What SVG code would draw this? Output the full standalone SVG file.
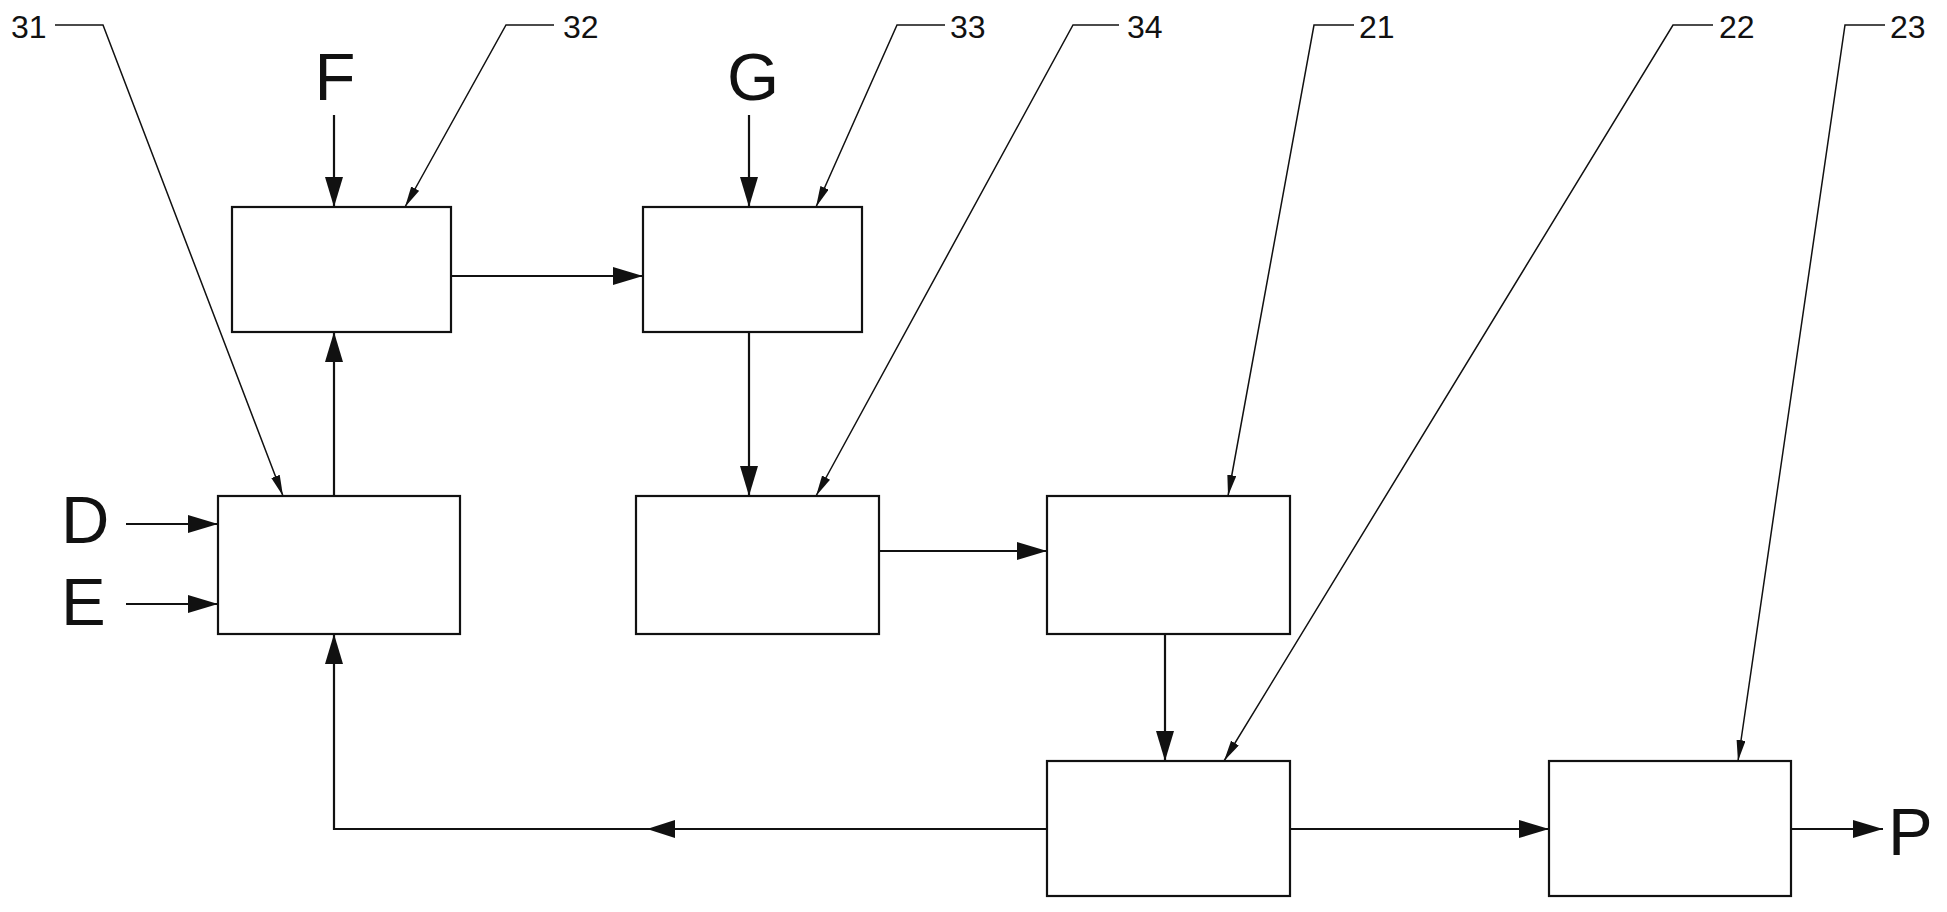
<svg xmlns="http://www.w3.org/2000/svg" width="1947" height="912" viewBox="0 0 1947 912">
<style>
.box{fill:#fff;stroke:#111;stroke-width:2.2}
.con{fill:none;stroke:#111;stroke-width:2.2}
.lead{fill:none;stroke:#111;stroke-width:1.5}
.num{font-family:"Liberation Sans",Arial,sans-serif;font-size:32px;fill:#111}
.big{font-family:"Liberation Sans",Arial,sans-serif;font-size:67px;fill:#111}
</style>
<defs>
<marker id="arr" markerUnits="userSpaceOnUse" markerWidth="32" markerHeight="20" refX="30" refY="9" orient="auto" viewBox="0 0 32 20">
<path d="M0,0 L30,9 L0,18 Z" fill="#111"/>
</marker>
<marker id="sarr" markerUnits="userSpaceOnUse" markerWidth="24" markerHeight="10" refX="21" refY="4.5" orient="auto" viewBox="0 0 24 10">
<path d="M0,0 L21,4.5 L0,9 Z" fill="#111"/>
</marker>
</defs>
<rect width="1947" height="912" fill="#fff"/>

<g id="node-31"><rect class="box" x="218" y="496" width="242" height="138"/></g>
<g id="node-32"><rect class="box" x="232" y="207" width="219" height="125"/></g>
<g id="node-33"><rect class="box" x="643" y="207" width="219" height="125"/></g>
<g id="node-34"><rect class="box" x="636" y="496" width="243" height="138"/></g>
<g id="node-21"><rect class="box" x="1047" y="496" width="243" height="138"/></g>
<g id="node-22"><rect class="box" x="1047" y="761" width="243" height="135"/></g>
<g id="node-23"><rect class="box" x="1549" y="761" width="242" height="135"/></g>

<g id="inputs">
<text class="big" x="335" y="100" text-anchor="middle">F</text>
<text class="big" x="753" y="100" text-anchor="middle">G</text>
<text class="big" x="61" y="543">D</text>
<text class="big" x="61" y="625">E</text>
<text class="big" x="1888" y="855">P</text>
</g>

<g id="connectors">
<line class="con" x1="334" y1="115" x2="334" y2="207" marker-end="url(#arr)"/>
<line class="con" x1="749" y1="115" x2="749" y2="207" marker-end="url(#arr)"/>
<line class="con" x1="126" y1="524" x2="218" y2="524" marker-end="url(#arr)"/>
<line class="con" x1="126" y1="604" x2="218" y2="604" marker-end="url(#arr)"/>
<line class="con" x1="334" y1="496" x2="334" y2="332" marker-end="url(#arr)"/>
<line class="con" x1="451" y1="276" x2="643" y2="276" marker-end="url(#arr)"/>
<line class="con" x1="749" y1="332" x2="749" y2="496" marker-end="url(#arr)"/>
<line class="con" x1="879" y1="551" x2="1047" y2="551" marker-end="url(#arr)"/>
<line class="con" x1="1165" y1="634" x2="1165" y2="761" marker-end="url(#arr)"/>
<line class="con" x1="1290" y1="829" x2="1549" y2="829" marker-end="url(#arr)"/>
<line class="con" x1="1791" y1="829" x2="1883" y2="829" marker-end="url(#arr)"/>
<polyline class="con" points="1047,829 334,829 334,634" marker-end="url(#arr)"/>
<path d="M647,829 L675,820 L675,838 Z" fill="#111"/>
</g>

<g id="leaders">
<polyline class="lead" points="55,25 103,25 283,496" marker-end="url(#sarr)"/>
<polyline class="lead" points="554,25 506,25 405,207" marker-end="url(#sarr)"/>
<polyline class="lead" points="945,25 897,25 816,207" marker-end="url(#sarr)"/>
<polyline class="lead" points="1119,25 1073,25 816,496" marker-end="url(#sarr)"/>
<polyline class="lead" points="1354,25 1314,25 1228,496" marker-end="url(#sarr)"/>
<polyline class="lead" points="1713,25 1673,25 1224,761" marker-end="url(#sarr)"/>
<polyline class="lead" points="1885,25 1845,25 1738,761" marker-end="url(#sarr)"/>
<text class="num" x="11" y="38">31</text>
<text class="num" x="563" y="38">32</text>
<text class="num" x="950" y="38">33</text>
<text class="num" x="1127" y="38">34</text>
<text class="num" x="1359" y="38">21</text>
<text class="num" x="1719" y="38">22</text>
<text class="num" x="1890" y="38">23</text>
</g>
</svg>
